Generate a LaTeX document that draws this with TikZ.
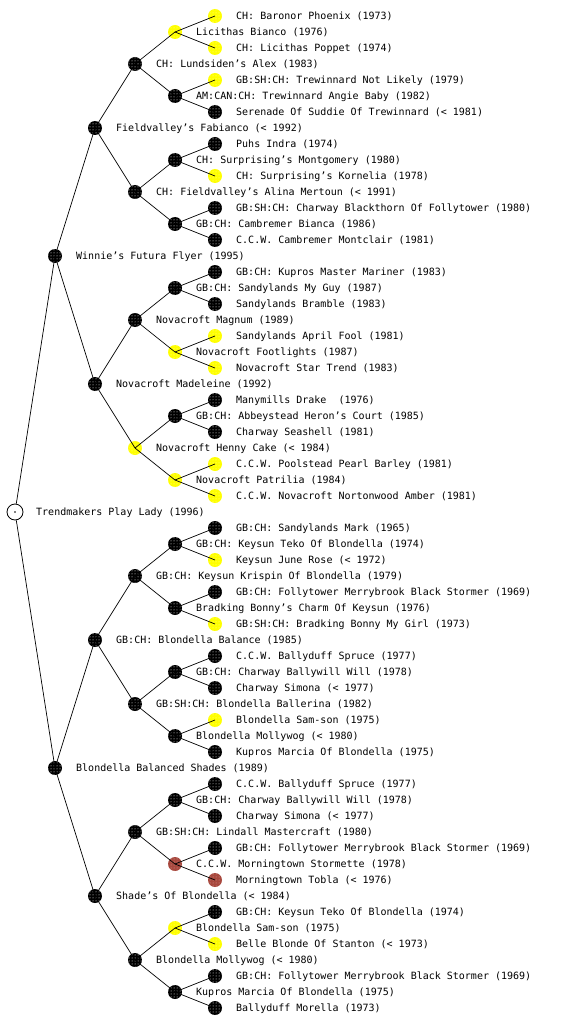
\documentclass[tikz,border=0pt]{standalone}
\usepackage{fontspec}
\setmonofont{DejaVu Sans Mono}
\usetikzlibrary{patterns}
\definecolor{dogyellow}{RGB}{255,255,0}
\definecolor{dogbrown}{RGB}{168,72,62}
\tikzset{
  pbase/.style={circle, inner sep=0pt, minimum size=14pt},
  pblack/.style={pbase, fill=black, postaction={pattern=dots, pattern color=white}},
  pyellow/.style={pbase, fill=dogyellow, postaction={pattern=dots, pattern color=white!60!dogyellow}},
  pbrown/.style={pbase, fill=dogbrown, postaction={pattern=dots, pattern color=white!50!dogbrown}},
  proot/.style={circle, inner sep=0pt, minimum size=16pt, draw=black, line width=0.8pt, fill=white},
  lbl/.style={anchor=base west, inner sep=0pt, font=\ttfamily\fontsize{10}{12}\selectfont},
  link/.style={draw=black, line width=0.7pt}
}
\newcommand\pn[4]{%
  \node[#3] (n#1) at ({15+40*#2},{16*#1}) {};
  \node[lbl] (t#1) at ({36+40*#2},{16*#1+3.6}) {#4};}
\begin{document}
\begin{tikzpicture}[x=1pt,y=-1pt]
\useasboundingbox (0,0) rectangle (560,1024);
\pn{1}{5}{pyellow}{CH: Baronor Phoenix (1973)}
\pn{2}{4}{pyellow}{Licithas Bianco (1976)}
\pn{3}{5}{pyellow}{CH: Licithas Poppet (1974)}
\pn{4}{3}{pblack}{CH: Lundsiden’s Alex (1983)}
\pn{5}{5}{pyellow}{GB:SH:CH: Trewinnard Not Likely (1979)}
\pn{6}{4}{pblack}{AM:CAN:CH: Trewinnard Angie Baby (1982)}
\pn{7}{5}{pblack}{Serenade Of Suddie Of Trewinnard (< 1981)}
\pn{8}{2}{pblack}{Fieldvalley’s Fabianco (< 1992)}
\pn{9}{5}{pblack}{Puhs Indra (1974)}
\pn{10}{4}{pblack}{CH: Surprising’s Montgomery (1980)}
\pn{11}{5}{pyellow}{CH: Surprising’s Kornelia (1978)}
\pn{12}{3}{pblack}{CH: Fieldvalley’s Alina Mertoun (< 1991)}
\pn{13}{5}{pblack}{GB:SH:CH: Charway Blackthorn Of Follytower (1980)}
\pn{14}{4}{pblack}{GB:CH: Cambremer Bianca (1986)}
\pn{15}{5}{pblack}{C.C.W. Cambremer Montclair (1981)}
\pn{16}{1}{pblack}{Winnie’s Futura Flyer (1995)}
\pn{17}{5}{pblack}{GB:CH: Kupros Master Mariner (1983)}
\pn{18}{4}{pblack}{GB:CH: Sandylands My Guy (1987)}
\pn{19}{5}{pblack}{Sandylands Bramble (1983)}
\pn{20}{3}{pblack}{Novacroft Magnum (1989)}
\pn{21}{5}{pyellow}{Sandylands April Fool (1981)}
\pn{22}{4}{pyellow}{Novacroft Footlights (1987)}
\pn{23}{5}{pyellow}{Novacroft Star Trend (1983)}
\pn{24}{2}{pblack}{Novacroft Madeleine (1992)}
\pn{25}{5}{pblack}{Manymills Drake \ (1976)}
\pn{26}{4}{pblack}{GB:CH: Abbeystead Heron’s Court (1985)}
\pn{27}{5}{pblack}{Charway Seashell (1981)}
\pn{28}{3}{pyellow}{Novacroft Henny Cake (< 1984)}
\pn{29}{5}{pyellow}{C.C.W. Poolstead Pearl Barley (1981)}
\pn{30}{4}{pyellow}{Novacroft Patrilia (1984)}
\pn{31}{5}{pyellow}{C.C.W. Novacroft Nortonwood Amber (1981)}
\node[proot] (n32) at (15,512) {};
\node[lbl] (t32) at (36,515.6) {Trendmakers Play Lady (1996)};
\pn{33}{5}{pblack}{GB:CH: Sandylands Mark (1965)}
\pn{34}{4}{pblack}{GB:CH: Keysun Teko Of Blondella (1974)}
\pn{35}{5}{pyellow}{Keysun June Rose (< 1972)}
\pn{36}{3}{pblack}{GB:CH: Keysun Krispin Of Blondella (1979)}
\pn{37}{5}{pblack}{GB:CH: Follytower Merrybrook Black Stormer (1969)}
\pn{38}{4}{pblack}{Bradking Bonny’s Charm Of Keysun (1976)}
\pn{39}{5}{pyellow}{GB:SH:CH: Bradking Bonny My Girl (1973)}
\pn{40}{2}{pblack}{GB:CH: Blondella Balance (1985)}
\pn{41}{5}{pblack}{C.C.W. Ballyduff Spruce (1977)}
\pn{42}{4}{pblack}{GB:CH: Charway Ballywill Will (1978)}
\pn{43}{5}{pblack}{Charway Simona (< 1977)}
\pn{44}{3}{pblack}{GB:SH:CH: Blondella Ballerina (1982)}
\pn{45}{5}{pyellow}{Blondella Sam-son (1975)}
\pn{46}{4}{pblack}{Blondella Mollywog (< 1980)}
\pn{47}{5}{pblack}{Kupros Marcia Of Blondella (1975)}
\pn{48}{1}{pblack}{Blondella Balanced Shades (1989)}
\pn{49}{5}{pblack}{C.C.W. Ballyduff Spruce (1977)}
\pn{50}{4}{pblack}{GB:CH: Charway Ballywill Will (1978)}
\pn{51}{5}{pblack}{Charway Simona (< 1977)}
\pn{52}{3}{pblack}{GB:SH:CH: Lindall Mastercraft (1980)}
\pn{53}{5}{pblack}{GB:CH: Follytower Merrybrook Black Stormer (1969)}
\pn{54}{4}{pbrown}{C.C.W. Morningtown Stormette (1978)}
\pn{55}{5}{pbrown}{Morningtown Tobla (< 1976)}
\pn{56}{2}{pblack}{Shade’s Of Blondella (< 1984)}
\pn{57}{5}{pblack}{GB:CH: Keysun Teko Of Blondella (1974)}
\pn{58}{4}{pyellow}{Blondella Sam-son (1975)}
\pn{59}{5}{pyellow}{Belle Blonde Of Stanton (< 1973)}
\pn{60}{3}{pblack}{Blondella Mollywog (< 1980)}
\pn{61}{5}{pblack}{GB:CH: Follytower Merrybrook Black Stormer (1969)}
\pn{62}{4}{pblack}{Kupros Marcia Of Blondella (1975)}
\pn{63}{5}{pblack}{Ballyduff Morella (1973)}
% connectors (centre to centre, drawn over the markers as in the reference)
\draw[link] (n32) -- (n16.center); \draw[link] (n32) -- (n48.center);
\foreach \r/\d in {16/8,48/8,8/4,24/4,40/4,56/4}{
  \pgfmathtruncatemacro\a{\r-\d}\pgfmathtruncatemacro\b{\r+\d}
  \draw[link] (n\r.center) -- (n\a.center); \draw[link] (n\r.center) -- (n\b.center);}
\foreach \k in {0,...,7}{
  \pgfmathtruncatemacro\r{4+8*\k}\pgfmathtruncatemacro\a{\r-2}\pgfmathtruncatemacro\b{\r+2}
  \draw[link] (n\r.center) -- (n\a.center); \draw[link] (n\r.center) -- (n\b.center);}
\foreach \k in {0,...,15}{
  \pgfmathtruncatemacro\r{2+4*\k}\pgfmathtruncatemacro\a{\r-1}\pgfmathtruncatemacro\b{\r+1}
  \draw[link] (n\r.center) -- (n\a.center); \draw[link] (n\r.center) -- (n\b.center);}
\fill (n32.center) circle (0.8pt);
\end{tikzpicture}
\end{document}
